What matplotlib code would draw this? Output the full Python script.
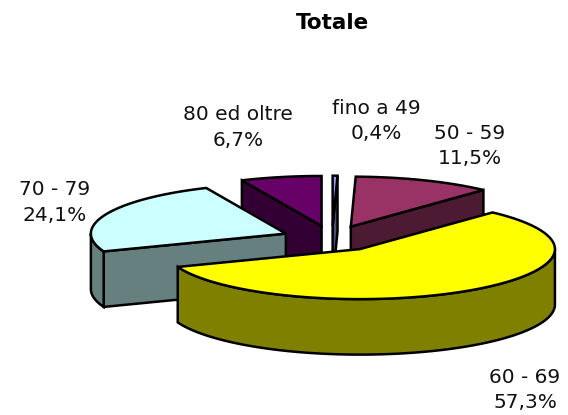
import numpy as np
import matplotlib.pyplot as plt

labels = ['fino a 49', '50 - 59', '60 - 69', '70 - 79', '80 ed oltre']
values = [0.4, 11.5, 57.3, 24.1, 6.7]
top_colors = ['#9999FF', '#993366', '#FFFF00', '#CCFFFF', '#660066']
side_colors = ['#4D4D80', '#4D1A33', '#808000', '#668080', '#330033']
label_pos = [(376.5, 121), (469.5, 146), (525, 390), (55, 202.5), (238, 127.5)]

# pie geometry, in pixels
cx, cy = 332, 238.5
rx, ry = 195, 50
depth = 55.5
explode = 0.256
lw = 1.8


def point(x0, y0, ang, r=1.0):
    # angle in degrees, clockwise from 12 o'clock
    a = np.radians(ang)
    return x0 + r * rx * np.sin(a), y0 - r * ry * np.cos(a)


fig = plt.figure(figsize=(5.68, 4.15), dpi=100)
ax = fig.add_axes([0, 0, 1, 1])
ax.set_xlim(0, 568)
ax.set_ylim(415, 0)
ax.axis('off')

edges = np.cumsum([0] + values) / sum(values) * 360
slices = []
for i in range(len(values)):
    a0, a1 = edges[i], edges[i + 1]
    x0, y0 = point(cx, cy, (a0 + a1) / 2, explode)
    slices.append((y0, i, x0, a0, a1))

# back slices first
for y0, i, x0, a0, a1 in sorted(slices):
    style = dict(edgecolor='black', linewidth=lw, joinstyle='miter')
    # only the cut faces turned towards the viewer
    faces = []
    if np.sin(np.radians(a0)) < -1e-6:
        faces.append(a0)
    if np.sin(np.radians(a1)) > 1e-6:
        faces.append(a1)
    for a in faces:
        xe, ye = point(x0, y0, a)
        ax.fill([x0, xe, xe, x0], [y0, ye, ye + depth, y0 + depth],
                facecolor=side_colors[i], **style)
    # outer wall, front half only
    w0, w1 = max(a0, 90), min(a1, 270)
    if w1 > w0:
        t = np.linspace(w0, w1, 120)
        xs, ys = point(x0, y0, t)
        ax.fill(np.r_[xs, xs[::-1]], np.r_[ys, ys[::-1] + depth],
                facecolor=side_colors[i], **style)
    t = np.linspace(a0, a1, 200)
    xs, ys = point(x0, y0, t)
    ax.fill(np.r_[x0, xs], np.r_[y0, ys], facecolor=top_colors[i], **style)

for lab, val, pos in zip(labels, values, label_pos):
    txt = f'{lab}\n{val:.1f}%'.replace('.', ',')
    ax.text(pos[0], pos[1], txt, ha='center', va='center', fontsize=14.5,
            linespacing=1.45, color='#111111')

ax.text(333, 23, 'Totale', ha='center', va='center', fontsize=15.5, fontweight='bold')

fig.savefig('out.png', dpi=100)
